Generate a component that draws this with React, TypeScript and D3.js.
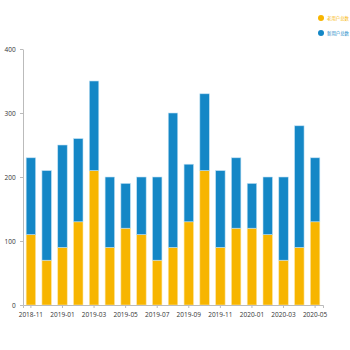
import React, { useEffect, useRef } from "react";
import * as d3 from "d3";

const months = [
  "2018-11", "2018-12", "2019-01", "2019-02", "2019-03", "2019-04", "2019-05",
  "2019-06", "2019-07", "2019-08", "2019-09", "2019-10", "2019-11", "2019-12",
  "2020-01", "2020-02", "2020-03", "2020-04", "2020-05",
];
const oldUsers = [110, 70, 90, 130, 210, 90, 120, 110, 70, 90, 130, 210, 90, 120, 120, 110, 70, 90, 130];
const newUsers = [120, 140, 160, 130, 140, 110, 70, 90, 130, 210, 90, 120, 120, 110, 70, 90, 130, 190, 100];
const seriesNames = ["老用户总数", "新用户总数"];
const colors = ["#F7B500", "#1487C6"];

export default function App() {
  const svgRef = useRef<SVGSVGElement>(null);

  useEffect(() => {
    if (!svgRef.current) return;
    const svg = d3.select(svgRef.current);
    svg.selectAll("*").remove();

    const left = 23, right = 323, top = 49, bottom = 305;

    const x = d3.scaleBand().domain(months).range([left, right]).paddingInner(0.4).paddingOuter(0.2);
    const y = d3.scaleLinear().domain([0, 400]).range([bottom, top]);

    const rows = months.map((m, i) => ({ month: m, old: oldUsers[i], new: newUsers[i] }));
    const stack = d3.stack<any>().keys(["old", "new"])(rows);

    stack.forEach((layer, li) => {
      svg
        .append("g")
        .selectAll("rect")
        .data(layer)
        .enter()
        .append("rect")
        .attr("x", (d: any) => x(d.data.month)!)
        .attr("width", x.bandwidth())
        .attr("y", (d) => y(d[1]))
        .attr("height", (d) => y(d[0]) - y(d[1]))
        .attr("fill", colors[li])
        .attr("stroke", li === 0 ? "#fde7a6" : "#bfe0f3")
        .attr("stroke-width", 0.6);
    });

    const xAxis = svg
      .append("g")
      .attr("transform", `translate(0,${bottom})`)
      .call(
        d3.axisBottom(x)
          .tickValues(months.filter((_, i) => i % 2 === 0))
          .tickSize(3)
          .tickSizeOuter(3)
      );
    const yAxis = svg
      .append("g")
      .attr("transform", `translate(${left},0)`)
      .call(d3.axisLeft(y).tickValues([0, 100, 200, 300, 400]).tickSize(3).tickSizeOuter(0));

    [xAxis, yAxis].forEach((a) => {
      a.selectAll("path,line").attr("stroke", "#bbb");
      a.selectAll("text")
        .attr("fill", "#333")
        .style("font-family", "'Open Sans', sans-serif")
        .style("font-size", "6.5px");
    });
    xAxis.selectAll("text").attr("dy", "0.9em");
    yAxis.selectAll("text").attr("dx", "-0.2em");

    // legend
    const legend = svg.append("g");
    seriesNames.forEach((name, i) => {
      const gy = 18 + i * 15;
      legend.append("circle").attr("cx", 321).attr("cy", gy).attr("r", 3).attr("fill", colors[i]);
      legend
        .append("text")
        .attr("x", 327)
        .attr("y", gy)
        .attr("dy", "0.35em")
        .attr("fill", colors[i])
        .style("font-family", "'Noto Sans CJK SC', sans-serif")
        .style("font-size", "4.4px")
        .text(name);
    });
  }, []);

  return (
    <svg
      ref={svgRef}
      width={350}
      height={350}
      style={{ position: "absolute", left: 0, top: 0, background: "#fff" }}
    />
  );
}
